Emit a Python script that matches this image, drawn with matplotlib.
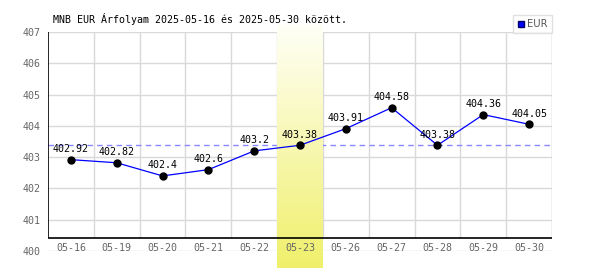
import numpy as np
import matplotlib
matplotlib.use("Agg")
import matplotlib.pyplot as plt
from matplotlib.lines import Line2D

# árfolyam adatok
dates = ["05-16", "05-19", "05-20", "05-21", "05-22", "05-23",
         "05-26", "05-27", "05-28", "05-29", "05-30"]
rates = [402.92, 402.82, 402.4, 402.6, 403.2, 403.38,
         403.91, 404.58, 403.38, 404.36, 404.05]
highlight_idx = 5
ref_value = 403.38
y_ticks = [400, 401, 402, 403, 404, 405, 406, 407]
title = "MNB EUR Árfolyam 2025-05-16 és 2025-05-30 között."

mono = "DejaVu Sans Mono"
grid_c = "#d9d9d9"
tick_c = "#666666"
fs = 7.2

fig = plt.figure(figsize=(6, 2.7), dpi=100)
ax = fig.add_axes([48 / 600, 19 / 270, 504 / 600, 219 / 270])

x = np.arange(len(dates))
y_base = 400.42  # az x tengely vonala

# rács
for v in y_ticks:
    ax.axhline(v, color=grid_c, lw=1, zorder=0.5)
for xv in np.arange(-0.5, len(dates), 1.0)[1:]:
    ax.vlines(xv, y_base, 407, color=grid_c, lw=1, zorder=0.5)

# kiemelt nap sávja (színátmenet)
grad = np.linspace(0, 1, 256).reshape(-1, 1)
top_c = np.array([1.0, 1.0, 0.97])
bot_c = np.array([0.94, 0.94, 0.42])
img = top_c + (bot_c - top_c) * grad[:, :, None] * np.ones((1, 1, 3))
band = ax.imshow(img, extent=[highlight_idx - 0.5, highlight_idx + 0.5, 399.46, 407.22],
                 aspect="auto", origin="upper", zorder=1)
band.set_clip_on(False)

# referencia szaggatott vonal
ax.axhline(ref_value, color="#8888ff", lw=1, ls=(0, (4, 3)), zorder=0.8)

# tengelyvonalak
ax.axhline(y_base, color="black", lw=1.2, zorder=1.5)
ax.vlines(-0.5, y_base, 407, color="black", lw=1.2, zorder=1.5)
ax.vlines(len(dates) - 0.5, y_base, 407, color=grid_c, lw=1, zorder=0.5)

# adatsor
ax.plot(x, rates, color="#0000ff", lw=0.9, zorder=3)
ax.plot(x, rates, "o", color="black", ms=5, zorder=4)
for xi, r in zip(x, rates):
    ax.annotate(f"{r:g}", (xi, r), xytext=(0, 4), textcoords="offset points",
                ha="center", va="bottom", fontsize=fs, family=mono, zorder=5)

# x feliratok a tengely alatt
for xi, d in zip(x, dates):
    ax.text(xi, 400.1, d, ha="center", va="center", fontsize=fs,
            family=mono, color=tick_c, zorder=5)

ax.set_xlim(-0.5, len(dates) - 0.5)
ax.set_ylim(400, 407)
ax.set_xticks([])
ax.set_yticks(y_ticks)
ax.set_yticklabels([str(v) for v in y_ticks], family=mono, fontsize=fs, color=tick_c)
ax.tick_params(axis="y", length=0, pad=5)
for s in ax.spines.values():
    s.set_visible(False)

fig.text(53 / 600, 1 - 19 / 270, title, family=mono, fontsize=fs, va="center")

handle = Line2D([], [], marker="s", color="#0000ff", markeredgecolor="#000066",
                ls="none", ms=5)
leg = fig.legend([handle], ["EUR"], loc="upper right",
                 bbox_to_anchor=(552 / 600, 1 - 15 / 270), fontsize=fs,
                 frameon=True, fancybox=False, borderpad=0.4,
                 handlelength=0.8, handletextpad=0.3, borderaxespad=0)
leg.get_frame().set_edgecolor(grid_c)
leg.get_frame().set_linewidth(1)
for t in leg.get_texts():
    t.set_color("#555555")

plt.savefig("out.png", dpi=100)
